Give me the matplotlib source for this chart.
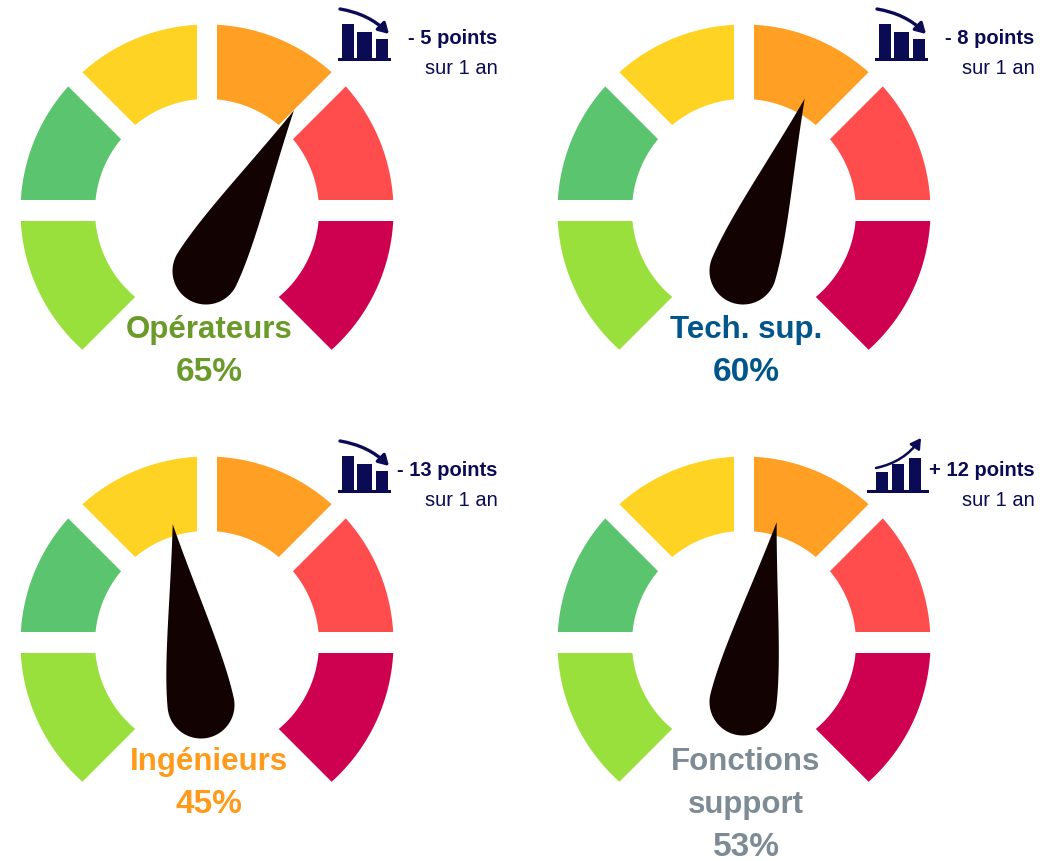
import numpy as np
import matplotlib
matplotlib.use("Agg")
import matplotlib.pyplot as plt
from matplotlib.patches import Rectangle, FancyArrowPatch, Polygon

# gauges
centers = [(207, 212), (744, 212), (207, 644), (744, 644)]
names = ["Opérateurs", "Tech. sup.", "Ingénieurs", "Fonctions\nsupport"]
values = [65, 60, 45, 53]
name_colors = ["#6A9A2A", "#00558C", "#FF9A1A", "#7D8B95"]
changes = ["- 5 points", "- 8 points", "- 13 points", "+ 12 points"]
needle_angles = [28.7, 19.7, -8.9, 10.6]
needle_base_dx = [-1, -1, -6, -1]
needle_base_dy = [60, 60, 62, 59]

# segments, angles clockwise on screen from the right hand side
seg_colors = ["#99E03C", "#5AC46E", "#FFD324", "#FF9F23", "#FF4D4D", "#CE0050"]
seg_starts = [135, 180, 225, 270, 315, 0]
seg_ends = [180, 225, 270, 315, 360, 45]
# the two lower cuts run outside the radial line, the rest leave a gap
start_offs = [-10, 11, 10, 10, 10, 10]
end_offs = [10, 10, 10, 10, 11, -10]

down_bars = [34, 26, 19]
up_bars = [18, 26, 32]

navy = "#0B0B55"
font = ["Liberation Sans", "DejaVu Sans"]

R = 186.5
r_in = 112


def segment(cx, cy, a, b, off_a, off_b):
    # annulus piece whose straight sides are parallel to the radial lines
    a = np.radians(a)
    b = np.radians(b)
    outer = np.linspace(a + np.arcsin(off_a / R), b - np.arcsin(off_b / R), 60)
    inner = np.linspace(b - np.arcsin(off_b / r_in), a + np.arcsin(off_a / r_in), 60)
    xs = np.r_[cx + R * np.cos(outer), cx + r_in * np.cos(inner)]
    ys = np.r_[cy + R * np.sin(outer), cy + r_in * np.sin(inner)]
    return np.c_[xs, ys]


def needle(px, py, angle, L=183, rb=33.5, lean=7):
    # teardrop: round bulb, sides leave it a bit late so they bow outward
    th = np.radians(angle)
    ux, uy = np.sin(th), -np.cos(th)
    tip = np.array([px + L * ux, py + L * uy])
    base = np.arctan2(uy, ux)
    phi = np.arccos(rb / L) + np.radians(lean)
    arc = np.linspace(base + phi, base + 2 * np.pi - phi, 60)
    bulb = np.c_[px + rb * np.cos(arc), py + rb * np.sin(arc)]
    t = np.linspace(0, 1, 30)[:, None]

    def side(p, a, sign):
        tang = sign * np.array([-np.sin(a), np.cos(a)])
        c1 = p + tang * L * 0.25
        c2 = p + (tip - p) * 0.6
        return (1 - t) ** 3 * p + 3 * (1 - t) ** 2 * t * c1 + 3 * (1 - t) * t ** 2 * c2 + t ** 3 * tip

    s0 = side(bulb[0], arc[0], -1)[::-1]
    s1 = side(bulb[-1], arc[-1], 1)
    return np.r_[s0, bulb, s1]


fig = plt.figure(figsize=(10.64, 8.62), dpi=100)
ax = fig.add_axes([0, 0, 1, 1])
ax.set_xlim(0, 1064)
ax.set_ylim(862, 0)
ax.axis("off")

for i, (cx, cy) in enumerate(centers):
    for col, a, b, oa, ob in zip(seg_colors, seg_starts, seg_ends, start_offs, end_offs):
        ax.add_patch(Polygon(segment(cx, cy, a, b, oa, ob), closed=True, fc=col, ec="none", zorder=1))

    ax.add_patch(Polygon(needle(cx + needle_base_dx[i], cy + needle_base_dy[i], needle_angles[i]),
                         closed=True, fc="#120202", ec="none", zorder=3))

    # labels
    lines = names[i].split("\n")
    for k, s in enumerate(lines):
        ax.text(cx + 2, cy + 126 + k * 43, s, color=name_colors[i], fontsize=22.5,
                fontweight="bold", family=font, ha="center", va="baseline", zorder=5)
    ax.text(cx + 2, cy + 126 + len(lines) * 43, f"{values[i]}%", color=name_colors[i], fontsize=24,
            fontweight="bold", family=font, ha="center", va="baseline", zorder=5)

    # change
    ax.text(cx + 290.5, cy - 173, changes[i], color=navy, fontsize=14.5, fontweight="bold",
            family=font, ha="right", va="center", zorder=5)
    ax.text(cx + 290.5, cy - 143, "sur 1 an", color=navy, fontsize=14.5,
            family=font, ha="right", va="center", zorder=5)

    # icon
    if changes[i].startswith("-"):
        ix = cx + 135
        iy = cy - 153
        for x0, h in zip([0, 15, 34], down_bars):
            ax.add_patch(Rectangle((ix + x0, iy - h), 12 if x0 != 15 else 15, h, fc=navy, ec="none", zorder=4))
        ax.add_patch(Rectangle((ix - 4, iy), 53, 2.5, fc=navy, ec="none", zorder=4))
        ax.add_patch(FancyArrowPatch((ix - 2, iy - 49), (ix + 47, iy - 24),
                                     connectionstyle="arc3,rad=-0.16", arrowstyle="-|>,head_length=6,head_width=3.5",
                                     color=navy, lw=2.4, shrinkA=0, shrinkB=0, zorder=4))
    else:
        ix = cx + 132
        iy = cy - 153
        for x0, h in zip([0, 16, 33], up_bars):
            ax.add_patch(Rectangle((ix + x0, iy - h), 12, h, fc=navy, ec="none", zorder=4))
        ax.add_patch(Rectangle((ix - 9, iy), 62, 2.5, fc=navy, ec="none", zorder=4))
        ax.add_patch(FancyArrowPatch((ix, iy - 22), (ix + 45, iy - 52),
                                     connectionstyle="arc3,rad=0.2", arrowstyle="-|>,head_length=6,head_width=3.5",
                                     color=navy, lw=1.8, shrinkA=0, shrinkB=0, zorder=4))

fig.savefig("out.png", dpi=100, facecolor="white")
